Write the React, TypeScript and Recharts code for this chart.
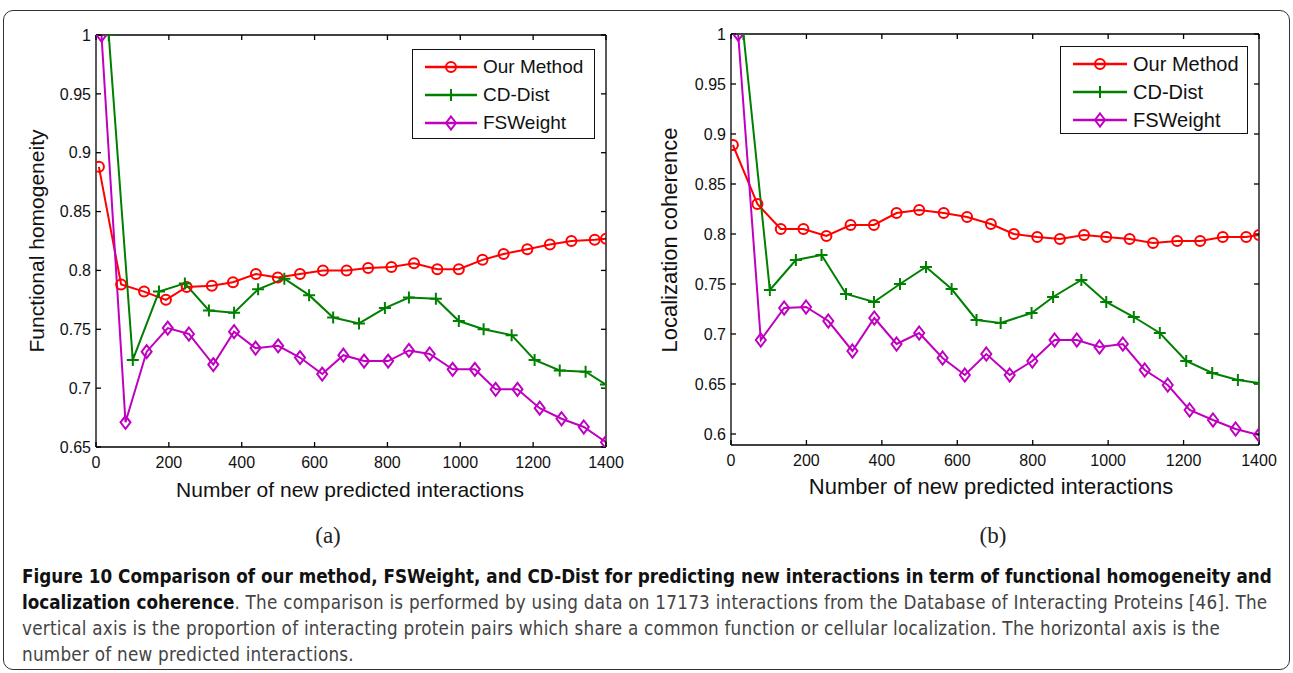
import React from "react";
import { LineChart, Line, XAxis, YAxis, Legend } from "recharts";

// shared axis ticks
const xTicks = [0, 200, 400, 600, 800, 1000, 1200, 1400];
const yTicksA = [0.65, 0.7, 0.75, 0.8, 0.85, 0.9, 0.95, 1];
const yTicksB = [0.6, 0.65, 0.7, 0.75, 0.8, 0.85, 0.9, 0.95, 1];

const seriesNames = ["Our Method", "CD-Dist", "FSWeight"];
const seriesColors = ["#ff0000", "#008000", "#c000c0"];

// (a) functional homogeneity
const ourXA = [8, 69, 132, 192, 249, 318, 376, 439, 499, 560, 623, 688, 747, 811, 873, 937, 996, 1061, 1119, 1184, 1246, 1305, 1369, 1400];
const ourYA = [0.888, 0.788, 0.782, 0.775, 0.786, 0.787, 0.79, 0.797, 0.794, 0.797, 0.8, 0.8, 0.802, 0.803, 0.806, 0.801, 0.801, 0.809, 0.814, 0.818, 0.822, 0.825, 0.826, 0.827];
const cdXA = [35, 101, 173, 244, 310, 379, 445, 517, 585, 651, 722, 793, 859, 933, 996, 1064, 1141, 1204, 1273, 1344, 1400];
const cdYA = [1.0, 0.724, 0.782, 0.789, 0.766, 0.764, 0.784, 0.793, 0.779, 0.76, 0.755, 0.768, 0.777, 0.776, 0.757, 0.75, 0.745, 0.724, 0.715, 0.714, 0.703];
const fsXA = [15, 81, 139, 197, 255, 322, 379, 438, 500, 560, 621, 679, 736, 802, 859, 916, 979, 1040, 1097, 1157, 1218, 1278, 1339, 1400];
const fsYA = [1.0, 0.671, 0.731, 0.751, 0.746, 0.72, 0.748, 0.734, 0.736, 0.726, 0.712, 0.728, 0.723, 0.723, 0.732, 0.729, 0.716, 0.716, 0.699, 0.699, 0.683, 0.674, 0.667, 0.654];

// (b) localization coherence
const ourXB = [5, 70, 132, 192, 253, 317, 379, 439, 499, 564, 626, 689, 750, 812, 872, 936, 995, 1057, 1119, 1183, 1244, 1304, 1366, 1400];
const ourYB = [0.889, 0.83, 0.805, 0.805, 0.798, 0.809, 0.809, 0.821, 0.824, 0.821, 0.817, 0.81, 0.8, 0.797, 0.795, 0.799, 0.797, 0.795, 0.791, 0.793, 0.793, 0.797, 0.797, 0.799];
const cdXB = [33, 103, 172, 240, 305, 379, 448, 517, 585, 651, 715, 797, 854, 929, 995, 1068, 1137, 1207, 1276, 1344, 1400];
const cdYB = [1.0, 0.744, 0.774, 0.779, 0.74, 0.732, 0.75, 0.767, 0.745, 0.714, 0.711, 0.721, 0.737, 0.754, 0.732, 0.717, 0.701, 0.673, 0.661, 0.654, 0.651];
const fsXB = [19, 79, 141, 199, 258, 322, 380, 439, 499, 561, 620, 677, 739, 799, 858, 917, 977, 1039, 1097, 1158, 1216, 1278, 1338, 1400];
const fsYB = [1.0, 0.694, 0.726, 0.727, 0.713, 0.683, 0.716, 0.69, 0.701, 0.676, 0.659, 0.68, 0.659, 0.673, 0.694, 0.694, 0.687, 0.69, 0.664, 0.649, 0.624, 0.614, 0.605, 0.599];

const FONT = "Arial, 'Liberation Sans', Helvetica, sans-serif";
const CAPTION_FONT = "'Liberation Sans Narrow', 'DejaVu Sans Condensed', 'Open Sans', sans-serif";

const toRows = (xs: number[], ys: number[]) => xs.map((x, i) => ({ x, y: ys[i] }));
const fmtY = (v: number) => String(+v.toFixed(2));
const blank = () => "";

const marker = (kind: number, cx: number, cy: number, color: string, key?: any) => {
  if (kind === 0)
    return <circle key={key} cx={cx} cy={cy} r={5} fill="none" stroke={color} strokeWidth={2} />;
  if (kind === 1)
    return (
      <path key={key} d={`M${cx - 6},${cy}H${cx + 6}M${cx},${cy - 6}V${cy + 6}`} stroke={color} strokeWidth={2} fill="none" />
    );
  return (
    <path key={key} d={`M${cx},${cy - 6.5}L${cx + 5},${cy}L${cx},${cy + 6.5}L${cx - 5},${cy}Z`} stroke={color} strokeWidth={2} fill="none" />
  );
};

const dotFor = (kind: number) => (props: any) => {
  const { cx, cy, index } = props;
  if (cx == null || cy == null) return <g key={index} />;
  return marker(kind, cx, cy, seriesColors[kind], index);
};

const legendContent = (fontSize: number, lineEnd: number) => () => (
  <div
    style={{
      width: "100%",
      height: "100%",
      boxSizing: "border-box",
      border: "1.5px solid #111",
      background: "#fff",
      paddingTop: 3,
      fontFamily: FONT,
    }}
  >
    {seriesNames.map((name, i) => (
      <div key={name} style={{ display: "flex", alignItems: "center", height: 28 }}>
        <svg width={lineEnd + 6} height={20} style={{ flex: "none" }}>
          <line x1={12} x2={lineEnd} y1={10} y2={10} stroke={seriesColors[i]} strokeWidth={2.5} />
          {marker(i, (12 + lineEnd) / 2, 10, seriesColors[i])}
        </svg>
        <span style={{ fontSize, color: "#111", whiteSpace: "nowrap" }}>{name}</span>
      </div>
    ))}
  </div>
);

interface PanelProps {
  left: number;
  width: number;
  margin: { top: number; right: number; bottom: number; left: number };
  yDomain: [number, number];
  yTicks: number[];
  our: { x: number; y: number }[];
  cd: { x: number; y: number }[];
  fs: { x: number; y: number }[];
  legendStyle: React.CSSProperties;
  legendFont: number;
  legendLineEnd: number;
}

function Panel(p: PanelProps) {
  const axisLine = { stroke: "#000", strokeWidth: 1.3 };
  const tickStyle = { fill: "#111", fontSize: 16, fontFamily: FONT };
  return (
    <div style={{ position: "absolute", left: p.left, top: 0 }}>
      <LineChart width={p.width} height={520} margin={p.margin}>
        <XAxis
          xAxisId="b"
          type="number"
          dataKey="x"
          domain={[0, 1400]}
          ticks={xTicks}
          allowDataOverflow
          height={30}
          axisLine={axisLine}
          tickLine={axisLine}
          tickSize={-5}
          tickMargin={15}
          tick={tickStyle}
        />
        <XAxis
          xAxisId="t"
          orientation="top"
          type="number"
          dataKey="x"
          domain={[0, 1400]}
          ticks={xTicks}
          allowDataOverflow
          height={1}
          axisLine={axisLine}
          tickLine={axisLine}
          tickSize={-5}
          tickFormatter={blank}
        />
        <YAxis
          yAxisId="l"
          type="number"
          domain={p.yDomain}
          ticks={p.yTicks}
          allowDataOverflow
          width={60}
          axisLine={axisLine}
          tickLine={axisLine}
          tickSize={-5}
          tickMargin={10}
          tick={tickStyle}
          tickFormatter={fmtY}
        />
        <YAxis
          yAxisId="r"
          orientation="right"
          type="number"
          domain={p.yDomain}
          ticks={p.yTicks}
          allowDataOverflow
          width={1}
          axisLine={axisLine}
          tickLine={axisLine}
          tickSize={-5}
          tickFormatter={blank}
        />
        {/* invisible copy so the box axes (top/right) have a series to draw with */}
        <Line
          xAxisId="t"
          yAxisId="r"
          data={p.our}
          dataKey="y"
          stroke="none"
          dot={false}
          activeDot={false}
          legendType="none"
          isAnimationActive={false}
        />
        <Line
          xAxisId="b"
          yAxisId="l"
          data={p.our}
          dataKey="y"
          name={seriesNames[0]}
          type="linear"
          stroke={seriesColors[0]}
          strokeWidth={2}
          dot={dotFor(0)}
          isAnimationActive={false}
        />
        <Line
          xAxisId="b"
          yAxisId="l"
          data={p.cd}
          dataKey="y"
          name={seriesNames[1]}
          type="linear"
          stroke={seriesColors[1]}
          strokeWidth={2}
          dot={dotFor(1)}
          isAnimationActive={false}
        />
        <Line
          xAxisId="b"
          yAxisId="l"
          data={p.fs}
          dataKey="y"
          name={seriesNames[2]}
          type="linear"
          stroke={seriesColors[2]}
          strokeWidth={2}
          dot={dotFor(2)}
          isAnimationActive={false}
        />
        <Legend
          layout="vertical"
          align="center"
          verticalAlign="middle"
          wrapperStyle={p.legendStyle}
          content={legendContent(p.legendFont, p.legendLineEnd)}
        />
      </LineChart>
    </div>
  );
}

const abs = (style: React.CSSProperties): React.CSSProperties => ({ position: "absolute", ...style });

const captionLine = (top: number): React.CSSProperties =>
  abs({
    left: 22,
    top,
    fontFamily: CAPTION_FONT,
    fontSize: 18.7,
    lineHeight: "22px",
    letterSpacing: 0.25,
    whiteSpace: "nowrap",
    color: "#444",
  });

export default function App() {
  return (
    <div style={abs({ left: 0, top: 0, width: 1293, height: 673, background: "#fff", overflow: "hidden" })}>
      <div
        style={abs({
          left: 3,
          top: 10,
          width: 1287,
          height: 660,
          boxSizing: "border-box",
          border: "1px solid #333",
          borderRadius: 10,
        })}
      />

      <Panel
        left={0}
        width={640}
        margin={{ top: 34, right: 33, bottom: 43, left: 36 }}
        yDomain={[0.65, 1]}
        yTicks={yTicksA}
        our={toRows(ourXA, ourYA)}
        cd={toRows(cdXA, cdYA)}
        fs={toRows(fsXA, fsYA)}
        legendStyle={{ left: 412, top: 49, width: 183, height: 90 }}
        legendFont={19}
        legendLineEnd={64}
      />
      <Panel
        left={640}
        width={650}
        margin={{ top: 33, right: 30, bottom: 45, left: 31 }}
        yDomain={[0.589, 1]}
        yTicks={yTicksB}
        our={toRows(ourXB, ourYB)}
        cd={toRows(cdXB, cdYB)}
        fs={toRows(fsXB, fsYB)}
        legendStyle={{ left: 420, top: 46, width: 188, height: 88 }}
        legendFont={20}
        legendLineEnd={66}
      />

      {/* axis titles */}
      <div
        style={abs({
          left: 37,
          top: 241,
          transform: "translate(-50%, -50%) rotate(-90deg)",
          fontFamily: FONT,
          fontSize: 21,
          whiteSpace: "nowrap",
          color: "#111",
        })}
      >
        Functional homogeneity
      </div>
      <div
        style={abs({
          left: 670,
          top: 240,
          transform: "translate(-50%, -50%) rotate(-90deg)",
          fontFamily: FONT,
          fontSize: 22,
          whiteSpace: "nowrap",
          color: "#111",
        })}
      >
        Localization coherence
      </div>
      <div
        style={abs({
          left: 350,
          top: 490,
          transform: "translate(-50%, -50%)",
          fontFamily: FONT,
          fontSize: 21,
          whiteSpace: "nowrap",
          color: "#111",
        })}
      >
        Number of new predicted interactions
      </div>
      <div
        style={abs({
          left: 991,
          top: 487,
          transform: "translate(-50%, -50%)",
          fontFamily: FONT,
          fontSize: 22,
          whiteSpace: "nowrap",
          color: "#111",
        })}
      >
        Number of new predicted interactions
      </div>
      <div
        style={abs({
          left: 328,
          top: 536,
          transform: "translate(-50%, -50%)",
          fontFamily: "'Liberation Serif', 'Times New Roman', serif",
          fontSize: 23,
          color: "#222",
        })}
      >
        (a)
      </div>
      <div
        style={abs({
          left: 993,
          top: 536,
          transform: "translate(-50%, -50%)",
          fontFamily: "'Liberation Serif', 'Times New Roman', serif",
          fontSize: 23,
          color: "#222",
        })}
      >
        (b)
      </div>

      {/* caption */}
      <div style={{ ...captionLine(566), fontWeight: "bold", color: "#111", letterSpacing: 0 }}>
        Figure 10 Comparison of our method, FSWeight, and CD-Dist for predicting new interactions in term of functional homogeneity and
      </div>
      <div style={captionLine(592)}>
        <b style={{ color: "#111", letterSpacing: 0 }}>localization coherence</b>. The comparison is performed by using data on 17173 interactions from the Database of Interacting Proteins [46]. The
      </div>
      <div style={captionLine(618)}>
        vertical axis is the proportion of interacting protein pairs which share a common function or cellular localization. The horizontal axis is the
      </div>
      <div style={captionLine(644)}>number of new predicted interactions.</div>
    </div>
  );
}
